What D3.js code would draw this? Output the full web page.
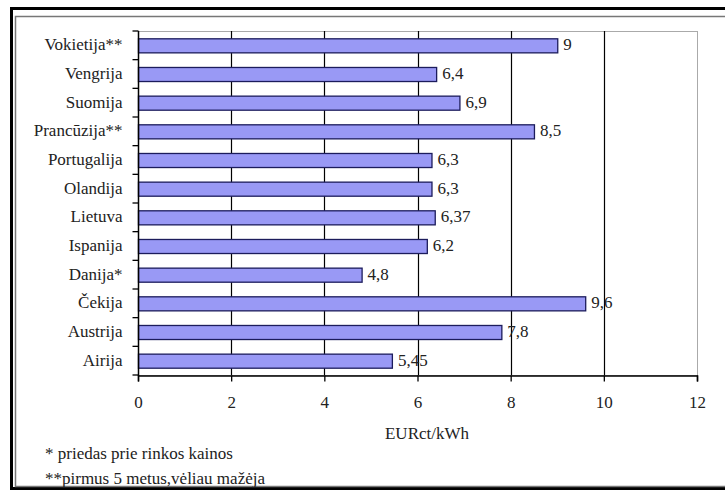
<!DOCTYPE html>
<html>
<head>
<meta charset="utf-8">
<script src="https://cdn.jsdelivr.net/npm/d3@7"></script>
<style>
    html, body { margin: 0; padding: 0; background: #fff; }
    svg { display: block; font-family: "Liberation Serif", Tinos, serif; }
    svg text { font-family: "Liberation Serif", Tinos, serif !important; }
</style>
</head>
<body>
<svg id="chart"></svg>
<script>
const categories = ['Vokietija**', 'Vengrija', 'Suomija', 'Prancūzija**', 'Portugalija',
    'Olandija', 'Lietuva', 'Ispanija', 'Danija*', 'Čekija', 'Austrija', 'Airija'];
const values = [9, 6.4, 6.9, 8.5, 6.3, 6.3, 6.37, 6.2, 4.8, 9.6, 7.8, 5.45];
const valueLabels = ['9', '6,4', '6,9', '8,5', '6,3', '6,3', '6,37', '6,2', '4,8', '9,6', '7,8', '5,45'];
const xTicks = [0, 2, 4, 6, 8, 10, 12];
const axisTitle = 'EURct/kWh';
const footnotes = ['* priedas prie rinkos kainos', '**pirmus 5 metus,vėliau mažėja'];

const width = 725;
const height = 492;
const plot = {left: 138, right: 697, top: 31, bottom: 375};
const textColor = '#222';

const svg = d3.select('#chart')
    .attr('width', width)
    .attr('height', height)
    .attr('font-family', 'Liberation Serif');

// every label goes through here so the font is set the same way
function styleText(sel) {
    sel.attr('font-family', 'Liberation Serif')
        .attr('font-size', 17)
        .attr('fill', textColor);
}

// document frame
svg.append('rect')
    .attr('x', 11.5).attr('y', 8.5)
    .attr('width', 760).attr('height', 480)
    .attr('fill', 'none')
    .attr('stroke', '#000')
    .attr('stroke-width', 3);
svg.append('rect')
    .attr('x', 15.5).attr('y', 16.5)
    .attr('width', 760).attr('height', 470)
    .attr('fill', 'none')
    .attr('stroke', '#777')
    .attr('stroke-width', 1.5);

const x = d3.scaleLinear()
    .domain([0, 12])
    .range([plot.left, plot.right]);

const y = d3.scaleBand()
    .domain(categories)
    .range([plot.top, plot.bottom])
    .paddingInner(0.51)
    .paddingOuter(0.255);

// plot area border
svg.append('rect')
    .attr('x', plot.left + 0.5)
    .attr('y', plot.top + 0.5)
    .attr('width', plot.right - plot.left)
    .attr('height', plot.bottom - plot.top)
    .attr('fill', '#fff')
    .attr('stroke', '#aaa');

// vertical gridlines
svg.append('g')
    .selectAll('line')
    .data(xTicks.filter(t => t > 0 && t < 12))
    .enter().append('line')
    .attr('x1', d => Math.round(x(d)) + 0.5)
    .attr('x2', d => Math.round(x(d)) + 0.5)
    .attr('y1', plot.top)
    .attr('y2', plot.bottom)
    .attr('stroke', '#000')
    .attr('stroke-width', 1.2);

// bars
svg.append('g')
    .selectAll('rect')
    .data(values)
    .enter().append('rect')
    .attr('x', x(0) + 0.5)
    .attr('y', (d, i) => y(categories[i]) + 0.5)
    .attr('width', d => x(d) - x(0))
    .attr('height', y.bandwidth())
    .attr('fill', '#9999f5')
    .attr('stroke', '#1c1c5c')
    .attr('stroke-width', 1.3);

// value labels
svg.append('g')
    .selectAll('text')
    .data(values)
    .enter().append('text')
    .attr('x', d => x(d) + 6)
    .attr('y', (d, i) => y(categories[i]) + y.bandwidth() / 2)
    .attr('dy', '0.3em')
    .call(styleText)
    .text((d, i) => valueLabels[i]);

// x axis
const xAxis = svg.append('g')
    .attr('transform', 'translate(0,' + (plot.bottom + 0.5) + ')')
    .call(d3.axisBottom(x).tickValues(xTicks).tickSize(6).tickPadding(14).tickFormat(d3.format('d')));
xAxis.attr('font-family', 'Liberation Serif').attr('font-size', 17);
xAxis.select('.domain').attr('stroke', '#000').attr('stroke-width', 1.5);
xAxis.selectAll('.tick line').attr('stroke', '#000').attr('stroke-width', 1.3);
xAxis.selectAll('.tick text').call(styleText);

// y axis: category ticks sit on band boundaries
const yAxis = svg.append('g')
    .attr('transform', 'translate(' + (plot.left + 0.5) + ',0)');
yAxis.append('line')
    .attr('y1', plot.top)
    .attr('y2', plot.bottom + 1)
    .attr('stroke', '#000')
    .attr('stroke-width', 1.5);
const step = (plot.bottom - plot.top) / categories.length;
yAxis.selectAll('.sep')
    .data(d3.range(categories.length + 1))
    .enter().append('line')
    .attr('class', 'sep')
    .attr('x1', -6)
    .attr('x2', 0)
    .attr('y1', d => plot.top + d * step)
    .attr('y2', d => plot.top + d * step)
    .attr('stroke', '#000')
    .attr('stroke-width', 1.3);
yAxis.selectAll('.cat')
    .data(categories)
    .enter().append('text')
    .attr('class', 'cat')
    .attr('x', -16)
    .attr('y', d => y(d) + y.bandwidth() / 2)
    .attr('dy', '0.3em')
    .attr('text-anchor', 'end')
    .call(styleText)
    .text(d => d);

svg.append('text')
    .attr('x', 427)
    .attr('y', 433)
    .attr('dy', '0.35em')
    .attr('text-anchor', 'middle')
    .call(styleText)
    .text(axisTitle);

svg.append('g')
    .selectAll('text')
    .data(footnotes)
    .enter().append('text')
    .attr('x', 45)
    .attr('y', (d, i) => 453 + i * 25)
    .attr('dy', '0.35em')
    .call(styleText)
    .text(d => d);
</script>
</body>
</html>
